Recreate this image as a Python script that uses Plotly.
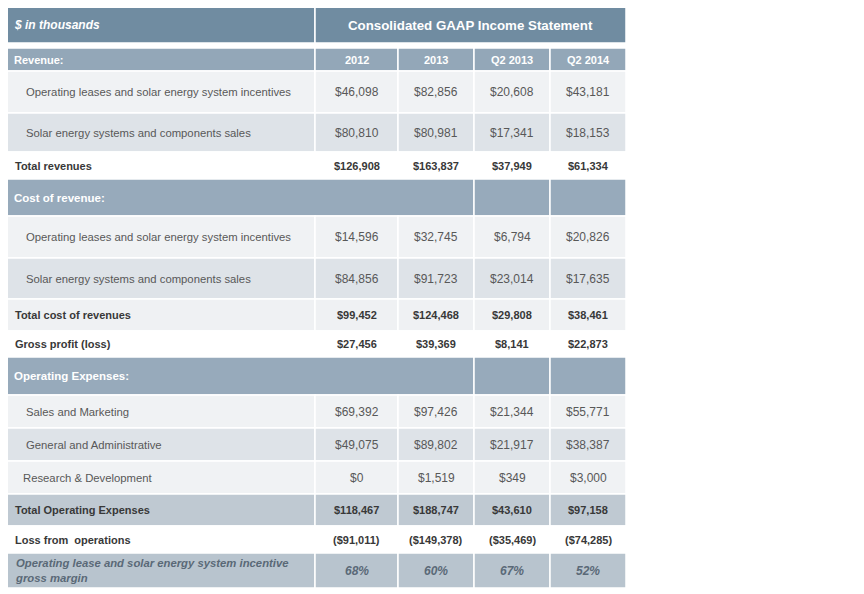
import plotly.graph_objects as go

# Table content
title_left = "$ in thousands"
title_right = "Consolidated GAAP Income Statement"
col_headers = ["2012", "2013", "Q2 2013", "Q2 2014"]

row_labels = [
    "Revenue:",
    "Operating leases and solar energy system incentives",
    "Solar energy systems and components sales",
    "Total revenues",
    "Cost of revenue:",
    "Operating leases and solar energy system incentives",
    "Solar energy systems and components sales",
    "Total cost of revenues",
    "Gross profit (loss)",
    "Operating Expenses:",
    "Sales and Marketing",
    "General and Administrative",
    "Research & Development",
    "Total Operating Expenses",
    "Loss from  operations",
    "Operating lease and solar energy system incentive<br>gross margin",
]

values_2012 = [None, "$46,098", "$80,810", "$126,908", None, "$14,596", "$84,856",
               "$99,452", "$27,456", None, "$69,392", "$49,075", "$0", "$118,467",
               "($91,011)", "68%"]
values_2013 = [None, "$82,856", "$80,981", "$163,837", None, "$32,745", "$91,723",
               "$124,468", "$39,369", None, "$97,426", "$89,802", "$1,519", "$188,747",
               "($149,378)", "60%"]
values_q2_2013 = [None, "$20,608", "$17,341", "$37,949", None, "$6,794", "$23,014",
                  "$29,808", "$8,141", None, "$21,344", "$21,917", "$349", "$43,610",
                  "($35,469)", "67%"]
values_q2_2014 = [None, "$43,181", "$18,153", "$61,334", None, "$20,826", "$17,635",
                  "$38,461", "$22,873", None, "$55,771", "$38,387", "$3,000", "$97,158",
                  "($74,285)", "52%"]

# row style keys
row_kinds = ["colhead", "light", "gray", "total_white", "section", "light", "gray",
             "total_light", "total_white", "section", "light", "gray", "light_rd",
             "total_blue", "total_white", "margin"]

# ---- layout / styling ----
W, H = 864, 594
PAGE_OFFSET = 8  # the page body puts the figure 8px in from the corner
x_edges = [4, 315, 398, 474, 550, 626]
title_top, title_bottom = 5, 43
table_top = 48
row_heights = [23, 42, 39, 27, 37, 42, 41, 32, 26, 38, 33, 33, 33, 32, 27, 35]

fills = {
    "title": "#708ca1",
    "colhead": "#93a7b8",
    "section": "#97aabb",
    "light": "#f0f2f4",
    "light_rd": "#f0f2f4",
    "gray": "#dee3e8",
    "total_white": "#ffffff",
    "total_light": "#eff1f3",
    "total_blue": "#bfc9d2",
    "margin": "#b8c4ce",
}
FONT = "Liberation Sans, Arial, sans-serif"

fig = go.Figure()


def add_cell(x0, x1, y0, y1, color):
    fig.add_shape(type="rect", xref="x", yref="y", x0=x0, x1=x1, y0=y0, y1=y1,
                  fillcolor=color, line=dict(color="white", width=1.5), layer="below")


def add_text(x, y, text, size, color, anchor="center"):
    fig.add_annotation(x=x, y=y, xref="x", yref="y", text=text, showarrow=False,
                       xanchor=anchor, yanchor="middle", align="left",
                       font=dict(family=FONT, size=size, color=color))


# title band
add_cell(x_edges[0], x_edges[1], title_top, title_bottom, fills["title"])
add_cell(x_edges[1], x_edges[5], title_top, title_bottom, fills["title"])
add_text(12, (title_top + title_bottom) / 2 + 0.5, "<b><i>" + title_left + "</i></b>", 12, "white", "left")
add_text((x_edges[1] + x_edges[5]) / 2, (title_top + title_bottom) / 2 + 1,
         "<b>" + title_right + "</b>", 13.3, "white")

columns = [values_2012, values_2013, values_q2_2013, values_q2_2014]
y = table_top
for i, (label, kind) in enumerate(zip(row_labels, row_kinds)):
    y0, y1 = y, y + row_heights[i]
    ym = (y0 + y1) / 2
    fill = fills[kind]

    if kind == "section":
        add_cell(x_edges[0], x_edges[3], y0, y1, fill)
        add_cell(x_edges[3], x_edges[4], y0, y1, fill)
        add_cell(x_edges[4], x_edges[5], y0, y1, fill)
        add_text(12, ym, "<b>" + label + "</b>", 11.5, "white", "left")
        y = y1
        continue

    for c in range(5):
        add_cell(x_edges[c], x_edges[c + 1], y0, y1, fill)

    if kind == "colhead":
        add_text(12, ym, "<b>" + label + "</b>", 11, "white", "left")
        for c, h in enumerate(col_headers):
            add_text((x_edges[c + 1] + x_edges[c + 2]) / 2, ym, "<b>" + h + "</b>", 11, "white")
    elif kind in ("light", "gray", "light_rd"):
        indent = 21 if kind == "light_rd" else 24
        add_text(indent, ym, label, 11.3, "#585858", "left")
        for c, col in enumerate(columns):
            add_text((x_edges[c + 1] + x_edges[c + 2]) / 2, ym, col[i], 12, "#585858")
    elif kind == "margin":
        add_text(13, ym, "<b><i>" + label + "</i></b>", 11.3, "#5a6977", "left")
        for c, col in enumerate(columns):
            add_text((x_edges[c + 1] + x_edges[c + 2]) / 2, ym, "<b><i>" + col[i] + "</i></b>",
                     12, "#5a6977")
    else:
        add_text(13, ym, "<b>" + label + "</b>", 11, "#383838", "left")
        for c, col in enumerate(columns):
            add_text((x_edges[c + 1] + x_edges[c + 2]) / 2, ym, "<b>" + col[i] + "</b>",
                     11, "#383838")
    y = y1

fig.update_layout(
    width=W - PAGE_OFFSET, height=H - PAGE_OFFSET,
    margin=dict(l=0, r=0, t=0, b=0),
    paper_bgcolor="white", plot_bgcolor="white",
    xaxis=dict(range=[PAGE_OFFSET, W], visible=False, fixedrange=True),
    yaxis=dict(range=[H, PAGE_OFFSET], visible=False, fixedrange=True),
    showlegend=False,
)

fig.write_html("out.html")
